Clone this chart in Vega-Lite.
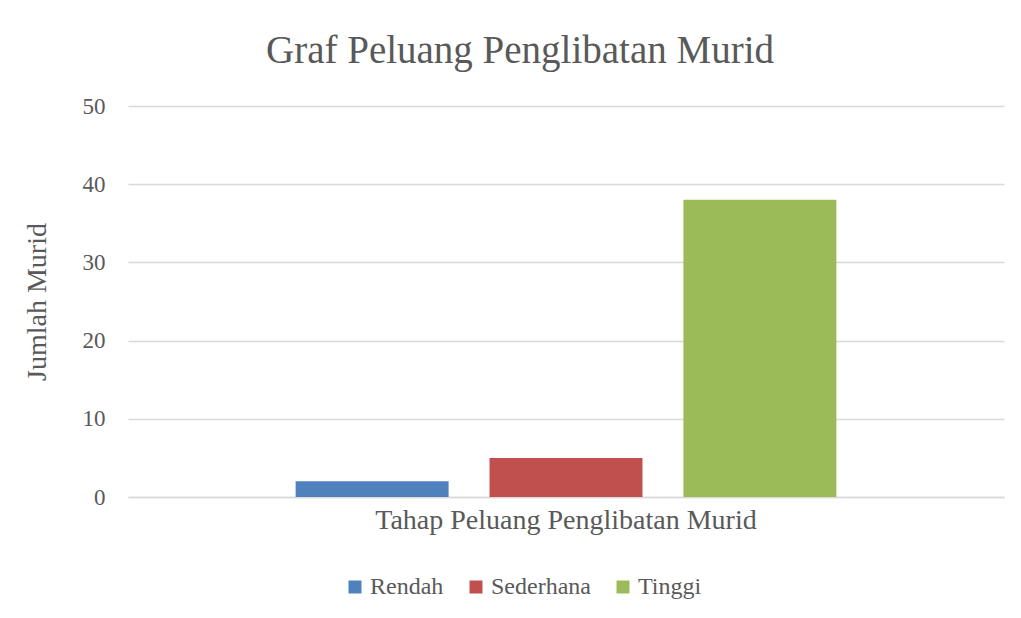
{
  "$schema": "https://vega.github.io/schema/vega-lite/v6.json",
  "width": 876,
  "height": 391,
  "autosize": {"type": "none"},
  "padding": {"left": 128, "top": 106, "right": 17, "bottom": 121},
  "background": "white",
  "title": {
    "text": "Graf Peluang Penglibatan Murid",
    "font": "Liberation Serif",
    "fontSize": 39,
    "fontWeight": "normal",
    "color": "#595959",
    "anchor": "middle",
    "dx": -46,
    "offset": 24
  },
  "data": {
    "values": [
      {"kategori": "Tahap Peluang Penglibatan Murid", "tahap": "Rendah", "jumlah": 2},
      {"kategori": "Tahap Peluang Penglibatan Murid", "tahap": "Sederhana", "jumlah": 5},
      {"kategori": "Tahap Peluang Penglibatan Murid", "tahap": "Tinggi", "jumlah": 38}
    ]
  },
  "mark": {"type": "bar"},
  "encoding": {
    "x": {
      "field": "kategori",
      "type": "nominal",
      "scale": {"paddingInner": 0, "paddingOuter": 0.31},
      "axis": {
        "title": null,
        "labelAngle": 0,
        "labelLimit": 0,
        "labelFont": "Liberation Serif",
        "labelFontSize": 28,
        "labelColor": "#595959",
        "labelPadding": 9,
        "ticks": false,
        "domainColor": "#d9d9d9",
        "domainWidth": 1.5
      }
    },
    "xOffset": {
      "field": "tahap",
      "type": "nominal",
      "sort": ["Rendah", "Sederhana", "Tinggi"],
      "scale": {"paddingInner": 0.211, "paddingOuter": 0}
    },
    "y": {
      "field": "jumlah",
      "type": "quantitative",
      "scale": {"domain": [0, 50]},
      "axis": {
        "title": "Jumlah Murid",
        "titleFont": "Liberation Serif",
        "titleFontSize": 28,
        "titleFontWeight": "normal",
        "titleColor": "#595959",
        "titlePadding": 31,
        "labelFont": "Liberation Serif",
        "labelFontSize": 23,
        "labelColor": "#595959",
        "labelPadding": 23,
        "values": [0, 10, 20, 30, 40, 50],
        "ticks": false,
        "domain": false,
        "gridColor": "#d9d9d9",
        "gridWidth": 1.5
      }
    },
    "color": {
      "field": "tahap",
      "type": "nominal",
      "sort": ["Rendah", "Sederhana", "Tinggi"],
      "scale": {"domain": ["Rendah", "Sederhana", "Tinggi"], "range": ["#4f81bd", "#c0504d", "#9bbb59"]},
      "legend": {
        "title": null,
        "orient": "none",
        "direction": "horizontal",
        "legendX": 215,
        "legendY": 469,
        "symbolType": "square",
        "symbolSize": 169,
        "symbolStrokeWidth": 0,
        "labelFont": "Liberation Serif",
        "labelFontSize": 24,
        "labelColor": "#595959",
        "labelOffset": 3,
        "columnPadding": 20
      }
    }
  },
  "config": {
    "view": {"stroke": null}
  }
}
